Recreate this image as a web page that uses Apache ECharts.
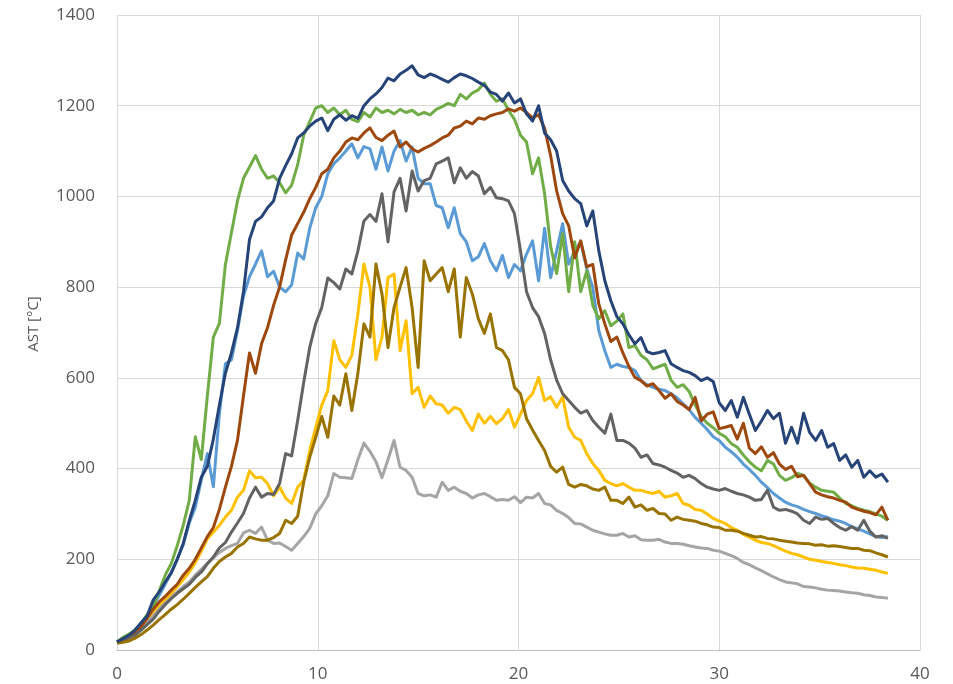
<!DOCTYPE html>
<html>
<head>
<meta charset="utf-8">
<script src="https://cdn.jsdelivr.net/npm/echarts@6/dist/echarts.min.js"></script>
<style>
  html, body { margin: 0; padding: 0; background: #ffffff; }
  #chart { width: 953px; height: 684px; }
</style>
</head>
<body>
<div id="chart"></div>
<script>
// Temperature traces, one reading every 0.3 time units (t = 0 … 38.4)
const SAMPLE_STEP = 0.3;

const xTicks = [0, 10, 20, 30, 40];
const yTicks = [0, 200, 400, 600, 800, 1000, 1200, 1400];
const yAxisTitle = 'AST [°C]';

const seriesNames = ['Run 1', 'Run 2', 'Run 3', 'Run 4', 'Run 5', 'Run 6', 'Run 7', 'Run 8'];

const lightBlue = [
  18,24,32,42,55,72,98,120,145,170,
  200,232,280,315,375,433,360,520,631,640,
  704,780,823,851,880,823,835,800,790,805,
  875,862,930,975,1000,1050,1072,1085,1100,1116,
  1085,1110,1105,1060,1109,1056,1100,1123,1078,1109,
  1040,1028,1028,980,975,931,975,918,900,858,
  867,896,858,836,870,821,850,836,873,902,
  814,930,821,880,940,851,880,900,840,800,
  704,660,623,630,625,623,616,594,585,579,
  575,572,565,556,543,530,513,500,486,470,
  462,447,437,425,410,398,385,370,358,345,
  335,326,320,316,310,305,301,296,292,287,
  284,279,272,267,262,256,250,248,250
];

const lightGray = [
  18,22,28,37,50,62,78,92,105,118,
  128,140,150,165,178,191,203,215,224,230,
  235,258,264,257,271,242,235,236,228,220,
  235,250,268,300,318,340,389,381,380,378,
  420,456,438,415,380,420,462,403,396,381,
  345,340,342,337,370,352,359,350,345,335,
  342,345,338,330,332,330,338,325,337,335,
  345,323,320,308,301,292,279,278,271,264,
  260,256,253,253,257,249,252,243,242,242,
  244,238,235,235,233,230,227,225,224,220,
  218,213,208,202,193,188,181,175,168,161,
  155,150,148,146,140,139,137,134,132,131,
  130,128,126,125,122,120,117,116,114
];

const yellow = [
  18,22,30,40,55,70,85,100,112,125,
  140,155,172,192,218,245,260,275,293,308,
  337,352,395,380,381,367,340,359,335,323,
  359,374,440,490,540,572,682,640,623,650,
  741,851,800,640,690,821,829,660,726,565,
  579,535,560,543,540,522,535,530,505,484,
  520,500,515,499,510,530,491,520,550,565,
  601,550,558,535,558,491,469,462,433,411,
  396,374,367,362,367,359,352,352,348,345,
  350,337,340,345,323,319,310,308,300,290,
  284,279,270,264,255,249,242,237,235,230,
  224,218,213,210,205,200,198,195,193,191,
  188,186,183,181,180,178,176,172,169
];

const green = [
  18,28,35,45,58,78,95,130,165,190,
  230,275,330,470,420,560,690,720,850,920,
  990,1040,1065,1090,1060,1040,1045,1030,1008,1025,
  1070,1135,1165,1195,1200,1185,1195,1180,1190,1170,
  1165,1185,1175,1195,1185,1190,1182,1192,1185,1190,
  1180,1185,1180,1192,1198,1205,1200,1225,1215,1228,
  1235,1250,1225,1210,1215,1190,1170,1135,1120,1050,
  1085,1006,890,830,918,790,900,790,836,760,
  730,748,715,725,741,667,671,650,640,620,
  625,630,595,579,585,570,540,515,500,490,
  478,470,455,447,430,415,403,395,418,410,
  385,374,380,389,385,368,359,352,350,348,
  335,323,318,312,308,305,300,295,286
];

const brown = [
  18,22,28,37,52,70,90,106,118,132,
  145,165,180,200,225,250,270,310,359,405,
  462,560,655,610,675,711,760,800,860,915,
  940,965,995,1020,1050,1060,1085,1100,1120,1129,
  1125,1140,1151,1130,1123,1135,1144,1109,1120,1105,
  1098,1106,1112,1120,1129,1135,1151,1155,1166,1160,
  1173,1170,1178,1182,1185,1193,1188,1195,1185,1173,
  1180,1150,1090,1012,962,935,865,902,845,850,
  763,719,680,690,655,625,601,594,582,587,
  572,555,565,548,540,530,557,505,520,525,
  488,491,495,465,500,445,433,448,425,435,
  410,398,405,382,385,367,348,342,338,335,
  330,326,315,310,306,303,298,315,286
];

const darkGray = [
  18,22,27,33,44,56,68,85,100,113,
  125,135,145,160,172,190,205,225,237,260,
  280,301,335,359,337,345,343,367,433,428,
  506,590,667,720,755,820,810,796,840,829,
  880,946,960,945,1006,900,1010,1040,968,1056,
  1012,1035,1040,1072,1078,1085,1030,1063,1040,1055,
  1045,1006,1020,997,995,990,962,880,790,755,
  735,698,640,595,565,550,535,522,528,506,
  491,478,520,462,462,456,445,425,430,411,
  408,403,396,390,381,385,378,367,359,355,
  352,356,350,345,342,337,330,332,352,315,
  308,310,306,300,286,279,293,288,290,279,
  270,264,272,264,286,262,249,252,246
];

const darkGold = [
  15,17,20,26,34,44,55,67,78,90,
  100,112,125,138,150,162,180,195,205,213,
  227,235,249,245,242,242,248,257,286,279,
  295,370,425,469,515,469,560,540,609,528,
  610,719,690,851,785,667,755,800,843,755,
  623,858,814,829,843,790,840,690,821,785,
  730,698,741,667,660,640,579,565,510,485,
  462,440,405,392,403,365,359,365,362,355,
  352,359,330,330,323,337,315,320,308,312,
  301,300,286,293,288,286,284,279,276,271,
  270,264,264,262,257,253,249,250,246,245,
  242,240,238,236,235,234,231,232,229,230,
  228,226,224,224,220,219,214,210,205
];

const navy = [
  18,25,33,44,60,75,110,128,150,170,
  200,235,285,330,381,405,465,540,610,655,
  710,790,905,945,955,975,990,1040,1068,1094,
  1129,1140,1155,1166,1173,1145,1170,1180,1168,1178,
  1172,1200,1215,1226,1240,1261,1255,1270,1278,1288,
  1268,1262,1270,1265,1258,1252,1262,1270,1266,1260,
  1252,1245,1230,1225,1210,1228,1206,1215,1182,1166,
  1200,1140,1125,1100,1035,1012,995,984,935,968,
  880,814,770,735,719,695,675,689,658,653,
  656,660,631,623,616,612,605,594,600,592,
  545,528,550,513,557,520,484,505,528,510,
  522,456,491,456,522,480,462,484,447,455,
  418,430,403,418,381,395,381,388,370
];

// drawing order: later entries are painted on top
const traces = [
  { values: lightBlue, color: '#5B9BD5' },
  { values: lightGray, color: '#A5A5A5' },
  { values: yellow,    color: '#FFC000' },
  { values: green,     color: '#70AD47' },
  { values: brown,     color: '#9E480E' },
  { values: darkGray,  color: '#636363' },
  { values: darkGold,  color: '#997300' },
  { values: navy,      color: '#264478' }
];

const times = lightBlue.map((_, i) => Math.round(i * SAMPLE_STEP * 10) / 10);

const chart = echarts.init(document.getElementById('chart'), null, { renderer: 'canvas' });

const labelFont = { color: '#595959', fontSize: 17, fontFamily: 'Open Sans, Noto Sans, sans-serif' };
const gridLine = { show: true, lineStyle: { color: '#D9D9D9', width: 1 } };
const plainNumber = v => String(v);

chart.setOption({
  animation: false,
  backgroundColor: '#ffffff',
  grid: { left: 117, right: 33, top: 15, bottom: 34, containLabel: false },
  graphic: [{
    type: 'text',
    x: 34,
    y: 324,
    rotation: Math.PI / 2,
    style: {
      text: yAxisTitle,
      fill: '#595959',
      font: '15px "Open Sans", "Noto Sans", sans-serif',
      textAlign: 'center',
      textVerticalAlign: 'middle'
    }
  }],
  xAxis: {
    type: 'value',
    min: xTicks[0],
    max: xTicks[xTicks.length - 1],
    interval: xTicks[1] - xTicks[0],
    axisLine: { show: true, lineStyle: { color: '#BFBFBF', width: 1 } },
    axisTick: { show: false },
    axisLabel: Object.assign({ margin: 16, formatter: plainNumber }, labelFont),
    splitLine: gridLine
  },
  yAxis: {
    type: 'value',
    min: yTicks[0],
    max: yTicks[yTicks.length - 1],
    interval: yTicks[1] - yTicks[0],
    axisLine: { show: false },
    axisTick: { show: false },
    axisLabel: Object.assign({ margin: 22, formatter: plainNumber }, labelFont),
    splitLine: gridLine
  },
  series: traces.map((tr, k) => ({
    name: seriesNames[k],
    type: 'line',
    data: times.map((t, i) => [t, tr.values[i]]),
    showSymbol: false,
    smooth: false,
    lineStyle: { color: tr.color, width: 3, join: 'round' },
    itemStyle: { color: tr.color },
    z: 2 + k
  }))
});
</script>
</body>
</html>
